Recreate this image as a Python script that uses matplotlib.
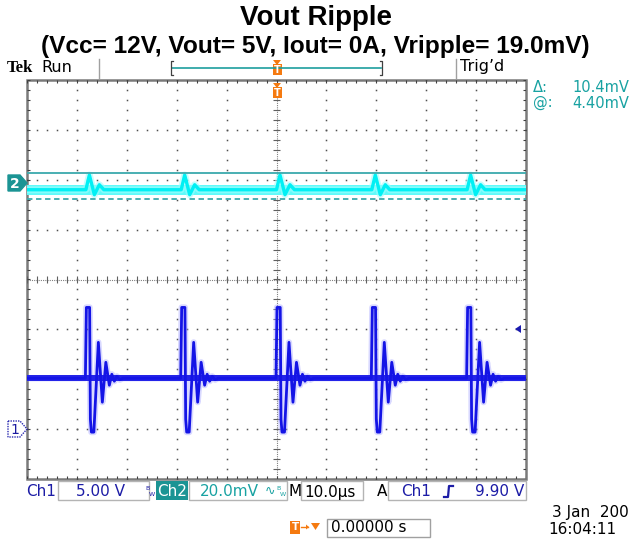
import numpy as np
import matplotlib.pyplot as plt
from matplotlib.patches import Polygon, Rectangle

W, H = 632, 540

# scope settings
ch1_volts_div = 5.0
ch2_mv_div = 20.0
ch1_ground_div = -3.0
ch2_ground_div = 1.92

# ch1 rising edges (us), trigger at 0
pulse_starts_us = [-38.2, -19.1, 0.0, 19.1, 38.2]

# one switching event on ch1 (offset in us, volts)
ch1_event_t = [-0.1, 0.1, 0.75, 0.9, 1.1, 1.6, 2.5, 3.3, 4.0, 4.7, 5.2, 5.7, 6.2, 6.8, 7.4]
ch1_event_v = [5.1, 12.2, 12.2, 1.0, -0.3, -0.3, 8.7, 2.7, 6.7, 4.4, 5.5, 4.8, 5.3, 4.95, 5.1]
ch1_base_v = 5.1

# same event on ch2 (offset in us, mV)
ch2_event_t = [0.0, 0.7, 1.7, 2.7, 3.6]
ch2_event_mv = [-2.4, 3.5, -4.4, -0.4, -2.4]
ch2_base_mv = -2.4
ch2_noise_mv = 2.0

# horizontal cursors (mV)
cursor_mv = [4.4, -6.0]


def build_trace(starts, ev_t, ev_y, base):
    t = [-50.0]
    y = [base]
    for s in starts:
        t += [s + d for d in ev_t]
        y += list(ev_y)
    t.append(50.0)
    y.append(base)
    return np.array(t), np.array(y)


t1, v1 = build_trace(pulse_starts_us, ch1_event_t, ch1_event_v, ch1_base_v)
t2, v2 = build_trace(pulse_starts_us, ch2_event_t, ch2_event_mv, ch2_base_mv)
y1 = v1 / ch1_volts_div + ch1_ground_div
y2 = v2 / ch2_mv_div + ch2_ground_div

fig = plt.figure(figsize=(W / 100, H / 100), dpi=100)
fig.patch.set_facecolor('white')

# ---- graticule ----
ax = fig.add_axes([27 / W, (H - 479) / H, 499 / W, 399 / H])
ax.set_xlim(-50, 50)
ax.set_ylim(-4, 4)
ax.axis('off')

grid_c = '#505050'
for gx in range(-40, 41, 10):
    if gx == 0:
        continue
    yy = np.arange(-4, 4.01, 0.2)
    ax.plot([gx] * len(yy), yy, ls='none', marker='s', ms=1.1, mew=0, color=grid_c)
for gy in range(-3, 4):
    if gy == 0:
        continue
    xx = np.arange(-50, 50.01, 2)
    ax.plot(xx, [gy] * len(xx), ls='none', marker='s', ms=1.1, mew=0, color=grid_c)

# center cross with minor ticks
ax.plot([-50, 50], [0, 0], color='#808080', lw=0.8, ls=(0, (1, 1)))
ax.plot([0, 0], [-4, 4], color='#808080', lw=0.8, ls=(0, (1, 1)))
mx = np.arange(-50, 50.01, 2)
my = np.arange(-4, 4.01, 0.2)
ax.vlines(mx, -0.07, 0.07, color='#606060', lw=0.8)
ax.hlines(my, -0.7, 0.7, color='#606060', lw=0.8)

# border ticks
ax.vlines(mx, 4 - 0.06, 4, color='#404040', lw=0.8)
ax.vlines(mx, -4, -4 + 0.06, color='#404040', lw=0.8)
ax.hlines(my, -50, -50 + 0.6, color='#404040', lw=0.8)
ax.hlines(my, 50 - 0.6, 50, color='#404040', lw=0.8)
ax.add_patch(Rectangle((-50, -4), 100, 8, fill=False, ec='#7a7a7a', lw=1.8, clip_on=False))

# ---- traces ----
ax.fill_between([-50, 50],
                [(ch2_base_mv - ch2_noise_mv) / ch2_mv_div + ch2_ground_div] * 2,
                [(ch2_base_mv + ch2_noise_mv) / ch2_mv_div + ch2_ground_div] * 2,
                color='#5ffafa', lw=0, zorder=4)
ax.plot(t2, y2, color='#9ffcfc', lw=5, alpha=0.6, zorder=4)
ax.plot(t2, y2, color='#00f0f4', lw=2.4, zorder=5)

cur_y = [m / ch2_mv_div + ch2_ground_div for m in cursor_mv]
ax.plot([-50, 50], [cur_y[0]] * 2, color='#3aa9ad', lw=1.3, zorder=6)
ax.plot([-50, 50], [cur_y[1]] * 2, color='#3aa9ad', lw=1.3, ls=(0, (3, 2)), zorder=6)

ax.plot(t1, y1, color='#a0a0ff', lw=4.5, alpha=0.4, zorder=4)
ax.plot(t1, y1, color='#1414e6', lw=2.0, zorder=5)
# thicker, noisy baseline of ch1
ax.fill_between([-50, 50],
                [(ch1_base_v - 0.3) / ch1_volts_div + ch1_ground_div] * 2,
                [(ch1_base_v + 0.3) / ch1_volts_div + ch1_ground_div] * 2,
                color='#2424e8', lw=0, zorder=4)

# ---- everything else in pixel coordinates ----
ov = fig.add_axes([0, 0, 1, 1], zorder=3)
ov.set_facecolor('none')
ov.set_xlim(0, W)
ov.set_ylim(H, 0)
ov.axis('off')

ov.text(316, 18, 'Vout Ripple', ha='center', va='center', fontsize=20,
        fontweight='bold', family='Liberation Sans')
ov.text(315, 46, '(Vcc= 12V, Vout= 5V, Iout= 0A, Vripple= 19.0mV)', ha='center',
        va='center', fontsize=17.6, fontweight='bold', family='Liberation Sans')

# header line
ov.text(7, 68, 'Tek', ha='left', va='center', fontsize=12, fontweight='bold',
        family='Liberation Serif')
ov.text(41, 67, 'Run', ha='left', va='center', fontsize=11.5, family='DejaVu Sans')
ov.plot([99, 99], [59, 78], color='#a0a0a0', lw=1)
ov.plot([456, 456], [59, 78], color='#a0a0a0', lw=1)
ov.text(460, 67, "Trig\u2019d", ha='left', va='center', fontsize=11.5, family='DejaVu Sans')
ov.plot([172, 381], [68, 68], color='#1e9e9e', lw=1.2)
ov.plot([173, 171, 171, 173], [61, 61, 75, 75], color='#404040', lw=0.9)
ov.plot([380, 382, 382, 380], [61, 61, 75, 75], color='#404040', lw=0.9)

orange = '#f57a10'


def t_marker(x, ytop):
    ov.add_patch(Polygon([[x - 4, ytop], [x + 4, ytop], [x, ytop + 5]], closed=True,
                         fc=orange, ec='none'))
    ov.add_patch(Rectangle((x - 4.5, ytop + 4), 9, 11, fc=orange, ec='none'))
    ov.text(x, ytop + 9.8, 'T', ha='center', va='center', fontsize=7, color='white',
            fontweight='bold', family='DejaVu Sans')


t_marker(277, 60)
t_marker(277, 83)

# cursor readout
teal = '#18a2a2'
ov.text(533, 87, '\u0394:', ha='left', va='center', fontsize=10.5, color=teal,
        family='DejaVu Sans')
ov.text(629, 87, '10.4mV', ha='right', va='center', fontsize=10.5, color=teal,
        family='DejaVu Sans')
ov.text(533, 103, '@:', ha='left', va='center', fontsize=10.5, color=teal,
        family='DejaVu Sans')
ov.text(629, 103, '4.40mV', ha='right', va='center', fontsize=10.5, color=teal,
        family='DejaVu Sans')

# channel ground markers
ov.add_patch(Polygon([[8, 175], [20, 175], [27, 183], [20, 191], [8, 191]], closed=True,
                     fc='#1b9494', ec='#1b9494'))
ov.text(15, 183.5, '2', ha='center', va='center', fontsize=10, color='white',
        fontweight='bold', family='DejaVu Sans')
ov.add_patch(Polygon([[8, 421], [20, 421], [27, 429], [20, 437], [8, 437]], closed=True,
                     fc='white', ec='#2a2ab0', lw=1, ls=(0, (1, 0.8))))
ov.text(15, 429.5, '1', ha='center', va='center', fontsize=10, color='#1a1aa0',
        family='DejaVu Sans')

# trigger level arrow
ov.add_patch(Polygon([[515, 329], [521, 325], [521, 333]], closed=True, fc='#1a1ab0',
                     ec='none'))

# bottom readout row
blue = '#1c1ca6'
box_ec = '#b4b4b4'
fs = 11
for x0, x1 in [(58, 149), (189, 287), (301, 363), (388, 526)]:
    ov.add_patch(Rectangle((x0, 481), x1 - x0, 19, fc='none', ec=box_ec, lw=1))
ov.text(26, 492, 'Ch1', ha='left', va='center', fontsize=fs, color=blue, family='DejaVu Sans')
ov.text(125, 492, '5.00 V', ha='right', va='center', fontsize=fs, color=blue,
        family='DejaVu Sans')
ov.text(145, 489, 'B', ha='left', va='center', fontsize=4.5, color=blue, family='DejaVu Sans')
ov.text(149, 494, 'W', ha='left', va='center', fontsize=4.5, color=blue, family='DejaVu Sans')
ov.add_patch(Rectangle((156, 481), 32, 19, fc='#1b9494', ec='none'))
ov.text(172, 491, 'Ch2', ha='center', va='center', fontsize=fs, color='white',
        family='DejaVu Sans')
ov.text(200, 492, '20.0mV', ha='left', va='center', fontsize=fs, color=teal,
        family='DejaVu Sans')
ov.text(265, 491, '\u223f', ha='left', va='center', fontsize=9, color=teal,
        family='DejaVu Sans')
ov.text(276, 489, 'B', ha='left', va='center', fontsize=4.5, color=teal, family='DejaVu Sans')
ov.text(280, 494, 'W', ha='left', va='center', fontsize=4.5, color=teal, family='DejaVu Sans')
ov.text(288, 492, 'M', ha='left', va='center', fontsize=fs, color='black', family='DejaVu Sans')
ov.text(304, 492, '10.0\u00b5s', ha='left', va='center', fontsize=fs, color='black',
        family='DejaVu Sans')
ov.text(377, 492, 'A', ha='left', va='center', fontsize=fs, color='black', family='DejaVu Sans')
ov.text(401, 492, 'Ch1', ha='left', va='center', fontsize=fs, color=blue, family='DejaVu Sans')
ov.plot([444, 448, 449, 453], [497, 497, 486, 486], color=blue, lw=1.6)
ov.text(524, 492, '9.90 V', ha='right', va='center', fontsize=fs, color=blue,
        family='DejaVu Sans')

# time / date
ov.text(629, 512, '3 Jan  200', ha='right', va='center', fontsize=fs, color='black',
        family='DejaVu Sans')
ov.text(548, 529, '16:04:11', ha='left', va='center', fontsize=fs, color='black',
        family='DejaVu Sans')

# trigger position readout
ov.add_patch(Rectangle((290, 521), 10, 13, fc=orange, ec='none'))
ov.text(295, 527.5, 'T', ha='center', va='center', fontsize=7.5, color='white',
        fontweight='bold', family='DejaVu Sans')
ov.plot([301, 308], [527, 527], color=orange, lw=1)
ov.add_patch(Polygon([[306, 524.5], [309, 527], [306, 529.5]], closed=True, fc=orange, ec='none'))
ov.add_patch(Polygon([[311, 523], [320, 523], [315.5, 530]], closed=True, fc=orange, ec='none'))
ov.add_patch(Rectangle((327, 519), 103, 18, fc='none', ec='#a0a0a0', lw=1))
ov.text(331, 528, '0.00000 s', ha='left', va='center', fontsize=fs, color='black',
        family='DejaVu Sans')

fig.savefig('out.png', dpi=100)
